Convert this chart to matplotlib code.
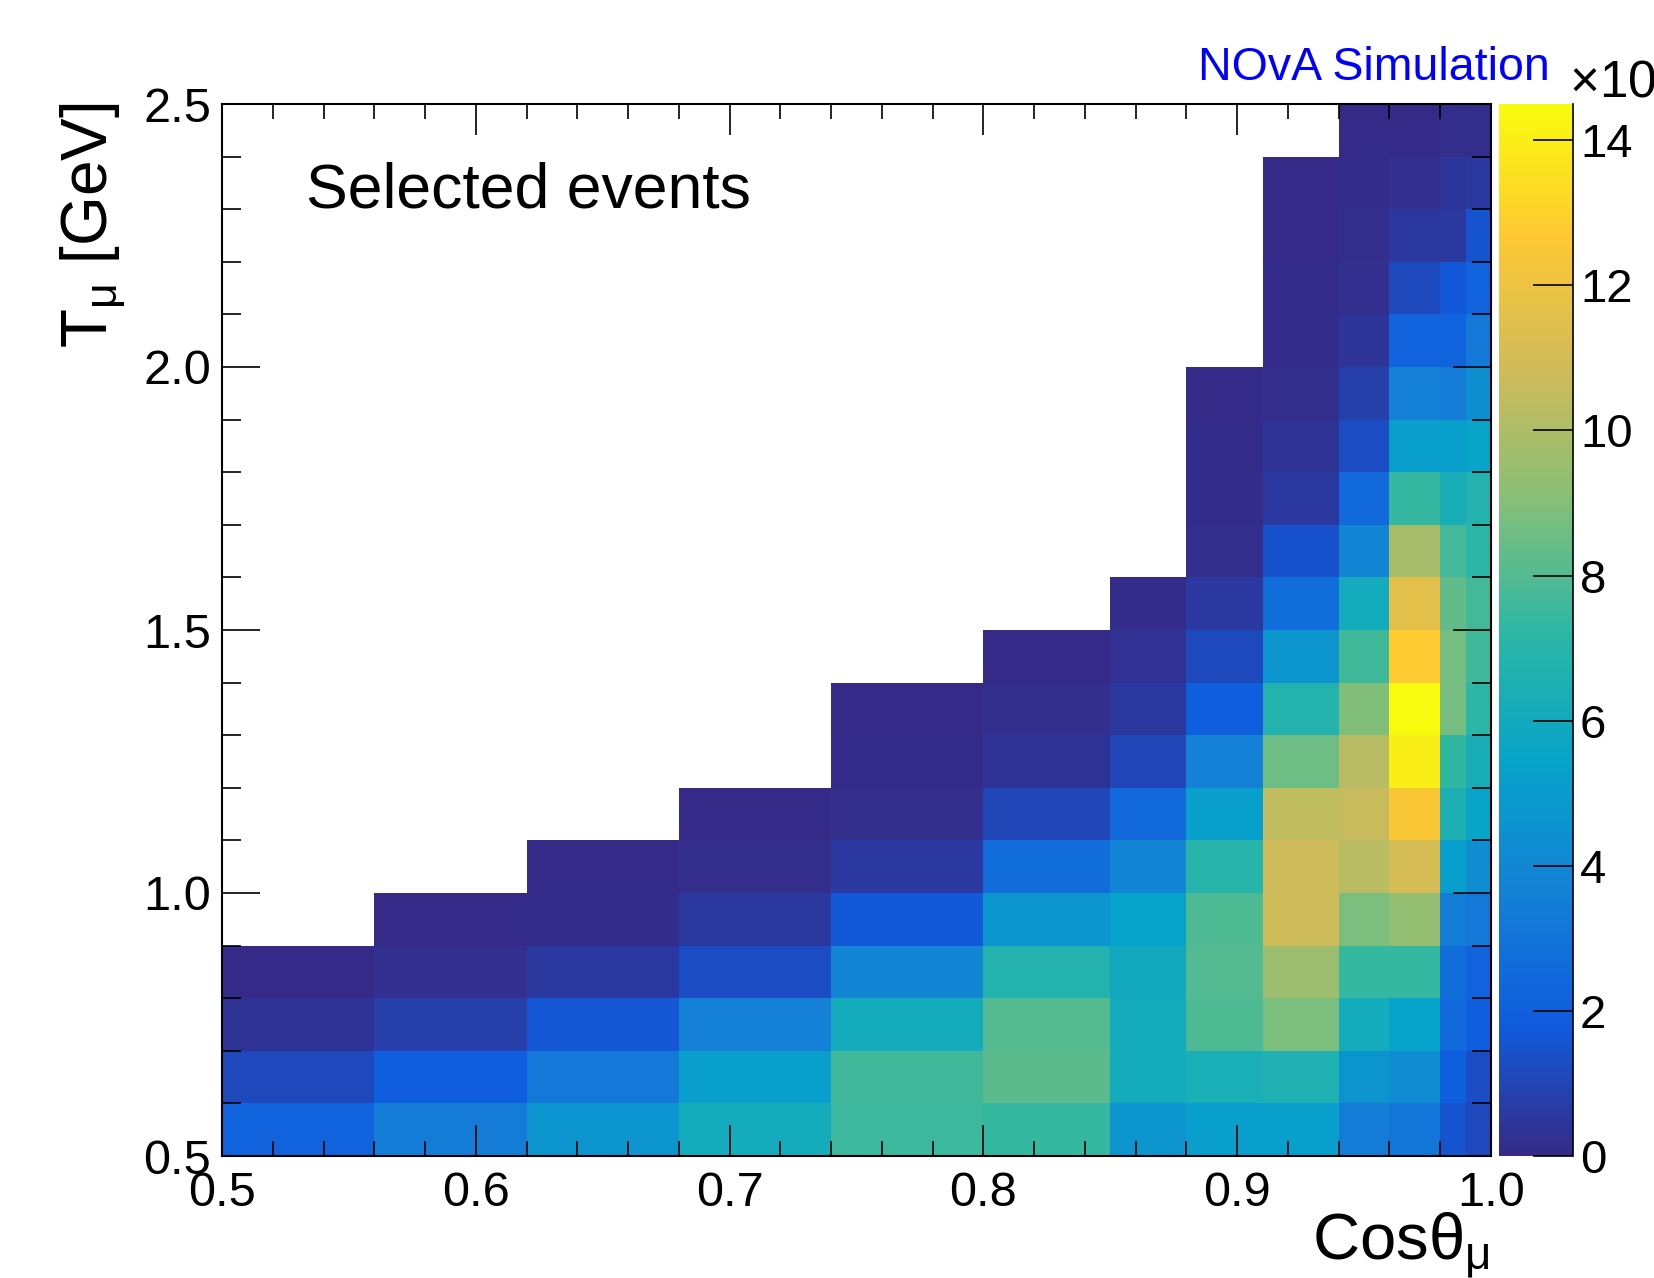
import numpy as np
import matplotlib
matplotlib.use("Agg")
import matplotlib.pyplot as plt
from matplotlib.colors import LinearSegmentedColormap
from matplotlib.ticker import MultipleLocator

plt.rcParams['font.family'] = ['Liberation Sans', 'DejaVu Sans']
plt.rcParams['mathtext.fontset'] = 'custom'
plt.rcParams['mathtext.rm'] = 'Liberation Sans'
plt.rcParams['mathtext.it'] = 'Liberation Sans:italic'

# ---------------- data ----------------
# bin edges
cos_edges = [0.50, 0.56, 0.62, 0.68, 0.74, 0.80, 0.85, 0.88, 0.91, 0.94, 0.96, 0.98, 0.99, 1.00]
t_edges = [0.5, 0.6, 0.7, 0.8, 0.9, 1.0, 1.1, 1.2, 1.3, 1.4, 1.5,
           1.6, 1.7, 1.8, 1.9, 2.0, 2.1, 2.2, 2.3, 2.4, 2.5]

n = np.nan
# events (x10^3), one row per T_mu bin (bottom -> top), one column per cos bin
row_050 = [2.2, 3.4, 4.7, 6.1, 7.5, 7.4, 4.7, 5.2, 5.2, 3.4, 3.1, 1.5, 1.1]
row_060 = [1.1, 1.95, 3.2, 5.2, 7.6, 8.2, 6.1, 6.4, 6.6, 4.6, 4.2, 1.95, 1.3]
row_070 = [0.3, 0.75, 1.6, 3.6, 6.1, 8.0, 6.1, 7.9, 8.8, 6.1, 5.4, 2.45, 1.95]
row_080 = [0.05, 0.2, 0.55, 1.3, 3.95, 6.75, 6.0, 8.0, 9.6, 7.4, 7.4, 2.7, 2.2]
row_090 = [n, 0.05, 0.1, 0.55, 1.75, 4.7, 5.4, 7.9, 10.8, 8.8, 9.35, 3.45, 3.2]
row_100 = [n, n, 0.05, 0.12, 0.55, 2.7, 3.9, 6.95, 10.8, 10.3, 11.05, 5.2, 4.2]
row_110 = [n, n, n, 0.05, 0.12, 1.05, 2.45, 5.2, 10.45, 10.6, 12.5, 6.5, 5.5]
row_120 = [n, n, n, n, 0.08, 0.3, 1.05, 3.6, 8.5, 10.3, 14.0, 7.3, 6.3]
row_130 = [n, n, n, n, 0.05, 0.12, 0.55, 1.95, 6.75, 8.9, 14.5, 8.7, 7.1]
row_140 = [n, n, n, n, n, 0.05, 0.28, 1.15, 4.7, 7.6, 12.8, 8.7, 7.6]
row_150 = [n, n, n, n, n, n, 0.1, 0.55, 2.7, 6.1, 11.6, 8.3, 7.7]
row_160 = [n, n, n, n, n, n, n, 0.12, 1.45, 3.9, 9.85, 7.7, 7.1]
row_170 = [n, n, n, n, n, n, n, 0.08, 0.55, 2.45, 7.4, 6.3, 6.75]
row_180 = [n, n, n, n, n, n, n, 0.06, 0.3, 1.3, 5.2, 5.2, 5.5]
row_190 = [n, n, n, n, n, n, n, 0.05, 0.12, 0.75, 3.6, 3.45, 4.45]
row_200 = [n, n, n, n, n, n, n, n, 0.08, 0.35, 2.2, 2.2, 3.2]
row_210 = [n, n, n, n, n, n, n, n, 0.06, 0.22, 1.15, 1.75, 2.2]
row_220 = [n, n, n, n, n, n, n, n, 0.05, 0.12, 0.55, 0.55, 1.5]
row_230 = [n, n, n, n, n, n, n, n, 0.05, 0.08, 0.2, 0.4, 0.55]
row_240 = [n, n, n, n, n, n, n, n, n, 0.05, 0.05, 0.12, 0.12]

x_ticks = [0.5, 0.6, 0.7, 0.8, 0.9, 1.0]
x_ticklabels = ["0.5", "0.6", "0.7", "0.8", "0.9", "1.0"]
y_ticks = [0.5, 1.0, 1.5, 2.0, 2.5]
y_ticklabels = ["0.5", "1.0", "1.5", "2.0", "2.5"]
z_ticks = [0, 2, 4, 6, 8, 10, 12, 14]
z_max = 14.5

Z = np.ma.masked_invalid(np.array([
    row_050, row_060, row_070, row_080, row_090, row_100, row_110, row_120,
    row_130, row_140, row_150, row_160, row_170, row_180, row_190, row_200,
    row_210, row_220, row_230, row_240], dtype=float))

# ROOT kBird palette
stops = [0.0000, 0.1250, 0.2500, 0.3750, 0.5000, 0.6250, 0.7500, 0.8750, 1.0000]
red = [0.2082, 0.0592, 0.0780, 0.0232, 0.1802, 0.5301, 0.8186, 0.9956, 0.9764]
green = [0.1664, 0.3599, 0.5041, 0.6419, 0.7178, 0.7492, 0.7328, 0.7862, 0.9832]
blue = [0.5293, 0.8684, 0.8385, 0.7914, 0.6425, 0.4662, 0.3499, 0.1968, 0.0539]
bird = LinearSegmentedColormap.from_list(
    "kBird", list(zip(stops, zip(red, green, blue))), N=256)

# ---------------- figure ----------------
W, H = 1654, 1278
fig = plt.figure(figsize=(W / 100, H / 100), dpi=100)
fig.patch.set_facecolor("white")

def fx(px):
    return px / W

def fy(py):
    return 1 - py / H

ax_l, ax_r, ax_t, ax_b = 222, 1491, 104, 1156
ax = fig.add_axes([fx(ax_l), fy(ax_b), fx(ax_r - ax_l), (ax_b - ax_t) / H])
mesh = ax.pcolormesh(cos_edges, t_edges, Z, cmap=bird, vmin=0, vmax=z_max,
                     shading="flat", antialiased=False, linewidth=0)
ax.set_xlim(cos_edges[0], cos_edges[-1])
ax.set_ylim(t_edges[0], t_edges[-1])

ax.set_xticks(x_ticks)
ax.set_xticklabels(x_ticklabels)
ax.set_yticks(y_ticks)
ax.set_yticklabels(y_ticklabels)
ax.xaxis.set_minor_locator(MultipleLocator(0.02))
ax.yaxis.set_minor_locator(MultipleLocator(0.1))

ax.tick_params(which="both", direction="in", top=True, right=True,
               width=1.2, color="black", labelsize=35)
ax.tick_params(axis="x", which="major", length=22.5, pad=11)
ax.tick_params(axis="x", which="minor", length=11)
ax.tick_params(axis="y", which="major", length=27.5, pad=8)
ax.tick_params(axis="y", which="minor", length=13.7)
for s in ax.spines.values():
    s.set_linewidth(1.5)

# colorbar
cax = fig.add_axes([fx(1499), fy(ax_b), fx(1573 - 1499), (ax_b - ax_t) / H])
cb = fig.colorbar(mesh, cax=cax)
cb.outline.set_visible(False)
cb.set_ticks(z_ticks)
cb.set_ticklabels([str(t) for t in z_ticks])
cax.yaxis.set_ticks_position("right")
cax.tick_params(direction="in", length=28.8, width=1.2, labelsize=34, pad=5)
cax.minorticks_off()
cax.plot([1, 1], [0, 1], transform=cax.transAxes, color="black", lw=1.2,
         clip_on=False)

# texts
fig.text(fx(306), fy(208), "Selected events", fontsize=45, ha="left", va="baseline")
fig.text(fx(1550), fy(80), "NOvA Simulation", fontsize=33.5, color="blue",
         ha="right", va="baseline")
fig.text(fx(1569), fy(97), "×10$^{\\mathregular{3}}$", fontsize=37,
         ha="left", va="baseline")
fig.text(fx(1490), fy(1259), "Cosθ$_{\\mathregular{μ}}$", fontsize=47,
         ha="right", va="baseline")
fig.text(fx(93), fy(102), "T$_{\\mathregular{μ}}$ [GeV]", fontsize=46,
         rotation=90, ha="center", va="top")

fig.savefig("out.png", dpi=100, facecolor="white")
